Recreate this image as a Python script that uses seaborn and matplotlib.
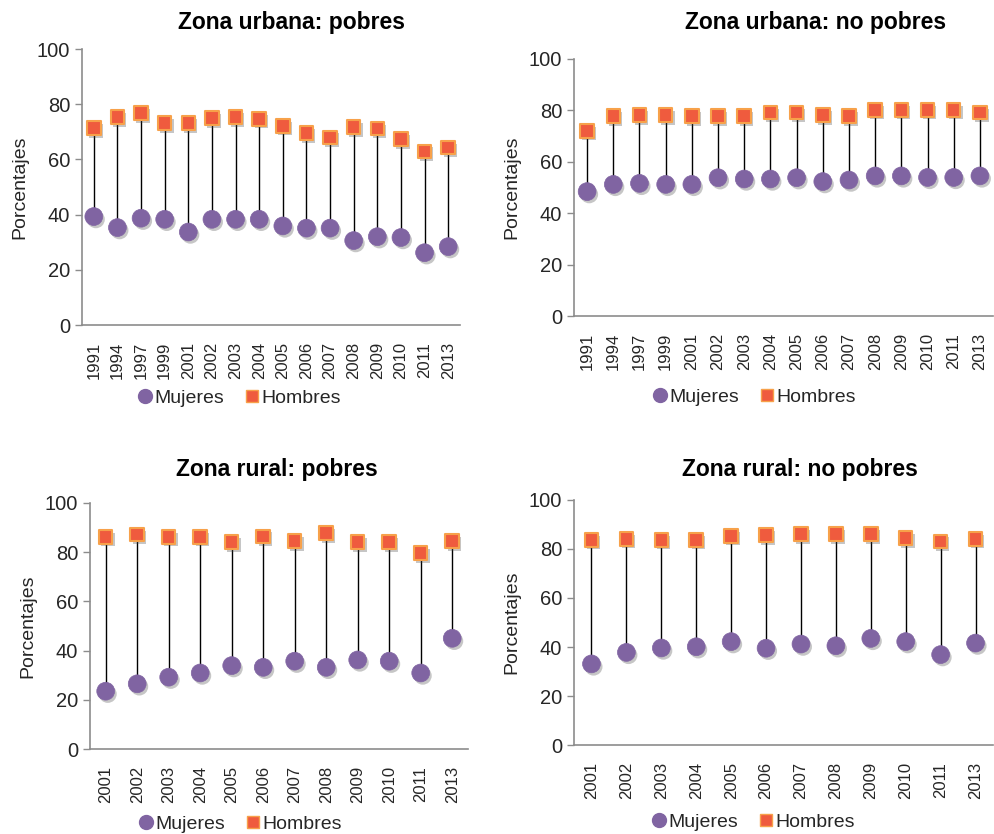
import matplotlib
matplotlib.use("Agg")
import matplotlib.pyplot as plt
import matplotlib.patheffects as pe
from matplotlib.lines import Line2D
import seaborn as sns
import pandas as pd

# ---- data ----
years_urb = ["1991", "1994", "1997", "1999", "2001", "2002", "2003", "2004",
             "2005", "2006", "2007", "2008", "2009", "2010", "2011", "2013"]
urb_pob_muj = [39.3, 35.3, 38.7, 38.3, 33.7, 38.3, 38.3, 38.3, 35.9, 35.1, 35.1, 30.6, 32.0, 31.7, 26.2, 28.4]
urb_pob_hom = [71.3, 75.3, 76.8, 73.2, 73.2, 75.0, 75.3, 74.7, 72.2, 69.5, 68.0, 71.7, 71.2, 67.4, 62.9, 64.3]
urb_nop_muj = [48.4, 51.2, 51.6, 51.2, 51.2, 53.8, 53.3, 53.3, 53.8, 52.3, 52.9, 54.5, 54.5, 53.9, 53.9, 54.5]
urb_nop_hom = [72.0, 77.8, 78.2, 78.2, 77.8, 77.8, 77.8, 79.1, 79.1, 78.2, 77.8, 80.2, 80.2, 80.2, 80.2, 79.1]

years_rur = ["2001", "2002", "2003", "2004", "2005", "2006", "2007", "2008",
             "2009", "2010", "2011", "2013"]
rur_pob_muj = [23.5, 26.5, 29.2, 30.9, 33.9, 33.2, 35.7, 33.2, 36.2, 35.7, 30.9, 45.0]
rur_pob_hom = [86.2, 87.1, 86.2, 86.2, 84.1, 86.4, 84.5, 87.8, 84.1, 84.1, 79.6, 84.5]
rur_nop_muj = [33.1, 37.8, 39.6, 40.1, 42.2, 39.5, 41.2, 40.5, 43.5, 42.2, 36.9, 41.6]
rur_nop_hom = [83.7, 84.1, 83.7, 83.7, 85.4, 85.7, 86.1, 86.1, 86.1, 84.4, 83.1, 84.1]

titles = ["Zona urbana: pobres", "Zona urbana: no pobres",
          "Zona rural: pobres", "Zona rural: no pobres"]
ylabel = "Porcentajes"
legend_labels = ["Mujeres", "Hombres"]

# ---- style ----
sns.set_theme(style="white")
plt.rcParams["font.family"] = ["Liberation Sans", "DejaVu Sans"]

PURPLE = "#8064A2"
SQ_FILL = "#EF5B3E"
SQ_EDGE = "#F7A14A"
SPINE = "#8C8C8C"
TXT = "#262626"

fig = plt.figure(figsize=(9.94, 8.34), dpi=100)

panels = [
    (years_urb, urb_pob_muj, urb_pob_hom, [0.0825, 0.6103, 0.3803, 0.3309], (0.2928, 0.9736), (0.2394, 0.5228)),
    (years_urb, urb_nop_muj, urb_nop_hom, [0.5775, 0.6211, 0.4215, 0.3082], (0.8200, 0.9736), (0.7575, 0.5240)),
    (years_rur, rur_pob_muj, rur_pob_hom, [0.0905, 0.1019, 0.3803, 0.2950], (0.2787, 0.4376), (0.2405, 0.0120)),
    (years_rur, rur_nop_muj, rur_nop_hom, [0.5775, 0.1067, 0.4215, 0.2938], (0.8050, 0.4376), (0.7565, 0.0144)),
]

shadow = [pe.SimplePatchShadow(offset=(1.5, -2.0), alpha=0.3, shadow_rgbFace="#444444"), pe.Normal()]

for (years, muj, hom, rect, tpos, lpos), title in zip(panels, titles):
    ax = fig.add_axes(rect)
    df = pd.DataFrame({"year": years, "Mujeres": muj, "Hombres": hom})
    n = len(years)
    ax.vlines(range(n), df["Mujeres"], df["Hombres"], color="black", lw=1.0, zorder=1)
    sns.scatterplot(data=df, x="year", y="Mujeres", ax=ax, marker="o", s=165,
                    color=PURPLE, edgecolor=PURPLE, linewidth=0.5, zorder=3, legend=False)
    sns.scatterplot(data=df, x="year", y="Hombres", ax=ax, marker="s", s=95,
                    color=SQ_FILL, edgecolor=SQ_EDGE, linewidth=1.5, zorder=3, legend=False)
    for coll in ax.collections[1:]:
        coll.set_path_effects(shadow)

    ax.set_xlim(-0.5, n - 0.5)
    ax.set_ylim(0, 100)
    ax.set_yticks([0, 20, 40, 60, 80, 100])
    ax.set_xticks(range(n))
    ax.set_xticklabels(years, rotation=90, fontsize=12, color=TXT)
    ax.set_xticks([i - 0.5 for i in range(n + 1)], minor=True)
    ax.tick_params(axis="x", which="major", length=0, pad=12)
    ax.tick_params(axis="x", which="minor", length=6, width=1, color=SPINE, direction="out")
    ax.tick_params(axis="y", which="major", length=5, width=1, color=SPINE, direction="out",
                   labelsize=14.5, labelcolor=TXT, left=True)
    ax.set_xlabel("")
    ax.set_ylabel(ylabel, fontsize=14, color=TXT, labelpad=6)
    for s in ["top", "right"]:
        ax.spines[s].set_visible(False)
    for s in ["left", "bottom"]:
        ax.spines[s].set_color(SPINE)
        ax.spines[s].set_linewidth(1.2)
    ax.grid(False)

    fig.text(tpos[0], tpos[1], title, ha="center", va="center", fontsize=16.5,
             fontweight="bold", color="black")

    handles = [
        Line2D([], [], marker="o", ls="none", color=PURPLE, markersize=10),
        Line2D([], [], marker="s", ls="none", markerfacecolor=SQ_FILL,
               markeredgecolor=SQ_EDGE, markersize=9),
    ]
    fig.legend(handles, legend_labels, loc="center", bbox_to_anchor=lpos, ncol=2,
               frameon=False, fontsize=14, handletextpad=0.0, columnspacing=0.9,
               handlelength=1.0, labelcolor=TXT)

fig.savefig("out.png", dpi=100)
